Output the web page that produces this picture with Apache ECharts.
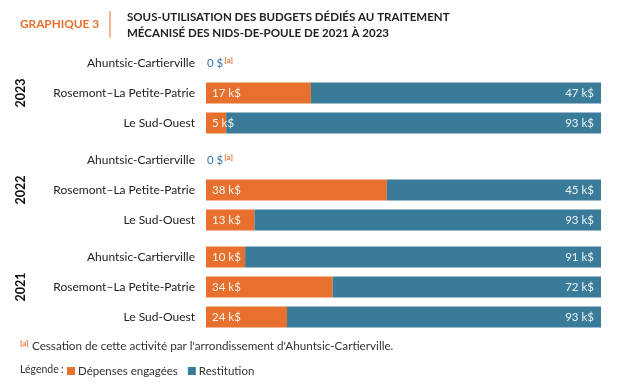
<!DOCTYPE html>
<html>
<head>
<meta charset="utf-8">
<script src="https://cdn.jsdelivr.net/npm/echarts@6/dist/echarts.min.js"></script>
<style>
html,body{margin:0;padding:0;background:#fff;}
#chart{width:628px;height:388px;}
</style>
</head>
<body>
<div id="chart"></div>
<script>
const years = ['2023', '2022', '2021'];
const boroughs = ['Ahuntsic-Cartierville', 'Rosemont–La Petite-Patrie', 'Le Sud-Ouest'];
const depenses2023 = [0, 17, 5];
const restitution2023 = [0, 47, 93];
const depenses2022 = [0, 38, 13];
const restitution2022 = [0, 45, 93];
const depenses2021 = [10, 34, 24];
const restitution2021 = [91, 72, 93];
const seriesNames = ['Dépenses engagées', 'Restitution'];
const titleLabel = 'GRAPHIQUE 3';
const titleLines = ['SOUS-UTILISATION DES BUDGETS DÉDIÉS AU TRAITEMENT', 'MÉCANISÉ DES NIDS-DE-POULE DE 2021 À 2023'];
const footnote = "Cessation de cette activité par l'arrondissement d'Ahuntsic-Cartierville.";
const legendLabel = 'Légende';

const depenses = [depenses2023, depenses2022, depenses2021];
const restitution = [restitution2023, restitution2022, restitution2021];

const ORANGE = '#E8702E';
const BLUE = '#3A7B9A';
const FONT = 'Lato';

const gridTops = [48, 145, 242];
const gridH = 90;

const chart = echarts.init(document.getElementById('chart'), null, {renderer: 'canvas'});

const grids = [], xAxes = [], yAxes = [], series = [], graphics = [];
years.forEach((yr, i) => {
  grids.push({left: 206, right: 27, top: gridTops[i], height: gridH});
  xAxes.push({type: 'value', gridIndex: i, min: 0, max: 100, show: false});
  yAxes.push({
    type: 'category', gridIndex: i, data: boroughs, inverse: true,
    axisLine: {show: false}, axisTick: {show: false},
    axisLabel: {fontFamily: FONT, fontSize: 12, color: '#222', margin: 11}
  });
  const dData = depenses[i].map((v, k) => {
    const tot = v + restitution[i][k];
    const item = {value: tot ? v / tot * 100 : 0, raw: v};
    if (!tot) {
      item.label = {
        show: true, position: 'insideLeft', distance: 1, color: '#2C78B5',
        fontSize: 11.5,
        formatter: '0 ${a|[a]}',
        rich: {a: {fontSize: 8, color: ORANGE, fontWeight: 'bold', padding: [0, 0, 6, 1]}}
      };
    }
    return item;
  });
  const rData = restitution[i].map((v, k) => {
    const tot = depenses[i][k] + v;
    return {value: tot ? v / tot * 100 : 0, raw: v};
  });
  series.push({
    name: seriesNames[0], type: 'bar', stack: 's' + i, xAxisIndex: i, yAxisIndex: i,
    barWidth: 21, itemStyle: {color: ORANGE}, data: dData, silent: true,
    label: {show: true, position: 'insideLeft', distance: 6, color: '#fbf3ee',
      fontFamily: FONT, fontSize: 11.5,
      formatter: p => p.data.raw + ' k$'}
  });
  series.push({
    name: seriesNames[1], type: 'bar', stack: 's' + i, xAxisIndex: i, yAxisIndex: i,
    barWidth: 21, itemStyle: {color: BLUE}, data: rData, silent: true,
    label: {show: true, position: 'insideRight', distance: 7, color: '#eef4f7',
      fontFamily: FONT, fontSize: 11.5,
      formatter: p => p.data.raw ? p.data.raw + ' k$' : ''}
  });
  graphics.push({
    type: 'text', x: 21, y: gridTops[i] + gridH / 2, rotation: Math.PI / 2,
    style: {text: yr, font: 'bold 12.5px ' + FONT, fill: '#111', align: 'center', verticalAlign: 'middle'}
  });
});

graphics.push(
  {type: 'text', x: 20, y: 24, style: {text: titleLabel, font: 'bold 11.8px ' + FONT, fill: ORANGE, verticalAlign: 'middle'}},
  {type: 'line', shape: {x1: 110, y1: 11, x2: 110, y2: 38}, style: {stroke: ORANGE, lineWidth: 1}},
  {type: 'text', x: 127, y: 17, style: {text: titleLines[0], font: 'bold 11.5px ' + FONT, fill: '#222', verticalAlign: 'middle'}},
  {type: 'text', x: 127, y: 33, style: {text: titleLines[1], font: 'bold 11.5px ' + FONT, fill: '#222', verticalAlign: 'middle'}},
  {type: 'text', x: 20, y: 346, style: {
    text: '{a|[a]} {b|' + footnote + '}', verticalAlign: 'middle',
    rich: {a: {fontSize: 8, fontFamily: FONT, fontWeight: 'bold', fill: ORANGE, padding: [0, 0, 6, 0]},
           b: {fontSize: 11.7, fontFamily: FONT, fill: '#333'}}
  }},
  {type: 'text', x: 20, y: 370, style: {text: legendLabel, font: '10.5px ' + FONT, fill: '#333', verticalAlign: 'middle'}},
  {type: 'text', x: 61, y: 370, style: {text: ':', font: '10.5px ' + FONT, fill: '#333', verticalAlign: 'middle'}}
);

chart.setOption({
  animation: false,
  grid: grids, xAxis: xAxes, yAxis: yAxes, series: series,
  legend: {
    data: seriesNames, left: 67, top: 365, padding: 0, icon: 'rect', itemWidth: 8, itemHeight: 8,
    itemGap: 10, selectedMode: false,
    textStyle: {fontFamily: FONT, fontSize: 11.5, color: '#333', padding: [0, 0, 0, -2]}
  },
  graphic: graphics
});
</script>
</body>
</html>
